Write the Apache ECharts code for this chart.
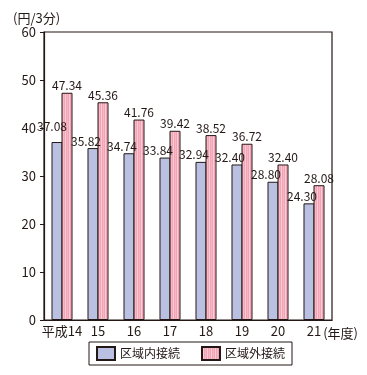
<!DOCTYPE html>
<html><head><meta charset="utf-8">
<script src="https://cdn.jsdelivr.net/npm/echarts@6/dist/echarts.min.js"></script>
<style>html,body{margin:0;padding:0;background:#fff}#c{width:367px;height:375px}</style>
</head><body><div id="c"></div>
<script>
var categories = ['平成14', '15', '16', '17', '18', '19', '20', '21'];
var inner = [37.08, 35.82, 34.74, 33.84, 32.94, 32.40, 28.80, 24.30];
var outer = [47.34, 45.36, 41.76, 39.42, 38.52, 36.72, 32.40, 28.08];
var yTicks = [0, 10, 20, 30, 40, 50, 60];

var pc = document.createElement('canvas');
pc.width = 4; pc.height = 4;
var ctx = pc.getContext('2d');
ctx.fillStyle = '#f4a3b5'; ctx.fillRect(0, 0, 4, 4);
ctx.fillStyle = '#f9cdd8'; ctx.fillRect(1, 0, 1, 4);
ctx.fillStyle = '#f7b8c6'; ctx.fillRect(3, 0, 1, 4);

var font = '"Noto Sans CJK JP", "Noto Sans", sans-serif';
var dark = '#231815';
var chart = echarts.init(document.getElementById('c'));
chart.setOption({
  animation: false,
  textStyle: { fontFamily: font, color: dark },
  title: { text: '(円/3分)', left: 8, top: 7, textStyle: { fontSize: 13, fontWeight: 'normal', color: dark, fontFamily: font } },
  grid: { left: 44, right: 35, top: 32, bottom: 55, show: true, borderColor: dark, borderWidth: 1.2, backgroundColor: 'transparent' },
  legend: {
    left: 89, top: 342, padding: [4, 7, 4, 7], itemGap: 21, itemWidth: 18, itemHeight: 13,
    icon: 'rect',
    borderColor: dark, borderWidth: 1,
    textStyle: { fontSize: 12, color: dark, fontFamily: font },
    data: ['区域内接続', '区域外接続']
  },
  xAxis: {
    type: 'category', data: categories,
    name: '(年度)', nameLocation: 'end', nameGap: 26, nameMoveOverlap: false,
    nameTextStyle: { fontSize: 13, color: dark, align: 'right', verticalAlign: 'top', padding: [7, 0, 0, 0] },
    axisLine: { lineStyle: { color: dark, width: 1.2 } },
    axisTick: { inside: true, length: 5, interval: 0, lineStyle: { color: dark } },
    axisLabel: { fontSize: 13, color: dark, margin: 5, interval: 0 }
  },
  yAxis: {
    type: 'value', min: yTicks[0], max: yTicks[yTicks.length - 1], interval: 10,
    splitLine: { show: false },
    axisLine: { show: true, lineStyle: { color: dark, width: 1.2 } },
    axisTick: { show: true, length: 4, lineStyle: { color: dark } },
    axisLabel: { fontSize: 13, color: dark, margin: 8 }
  },
  series: [
    {
      name: '区域内接続', type: 'bar', barWidth: 11, barGap: '-9%',
      itemStyle: { color: '#b9c0e2', borderColor: dark, borderWidth: 1 },
      label: { show: true, position: 'top', distance: 1, offset: [-7, 0], fontSize: 12, color: dark,
        formatter: function (p) { return p.value.toFixed(2); } },
      data: inner.map(function (v, i) { return i === 0 ? { value: v, label: { offset: [-5, -9] } } : v; })
    },
    {
      name: '区域外接続', type: 'bar', barWidth: 11,
      itemStyle: { color: { image: pc, repeat: 'repeat' }, borderColor: dark, borderWidth: 1 },
      label: { show: true, position: 'top', distance: 1, fontSize: 12, color: dark,
        formatter: function (p) { return p.value.toFixed(2); } },
      data: outer
    }
  ]
});
</script></body></html>
